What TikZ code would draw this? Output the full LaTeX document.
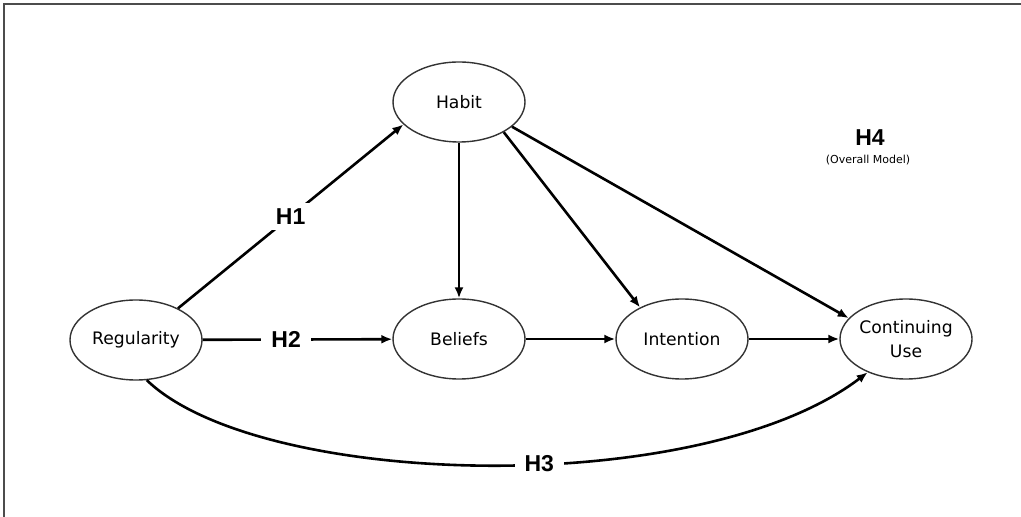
\documentclass[tikz,border=0pt]{standalone}
\usepackage{fontspec}
\setmainfont{DejaVu Sans}
\newfontfamily\hypfont{Liberation Sans}
\usepackage{tikz}
\usetikzlibrary{shapes}
\usetikzlibrary{arrows.meta}
\tikzstyle{Construct}=[ellipse,draw=black!80,line width=.7pt,fill=white,
minimum width=66pt,minimum height=40pt,inner sep=0pt,align=center,
font=\fontsize{8.6}{12}\selectfont]
\tikzstyle{Path}=[draw=black,line width=1.3pt,
-{Latex[length=5.5pt,width=4.5pt]}]
\tikzstyle{Hyp}=[fill=white,inner xsep=5pt,inner ysep=3pt,
font=\hypfont\bfseries\fontsize{11.5}{12}\selectfont]
\tikzstyle{Frame}=[draw=black!70,line width=1.2pt]

\begin{document}
\begin{tikzpicture}[x=.5pt,y=-.5pt]
        \useasboundingbox(0,0)rectangle(1021,517);
        \draw[Frame](1021,4)--(4,4)--(4,517);
        \node[Construct](reg)at(136,340){Regularity};
        \node[Construct](habit)at(459,102){Habit};
        \node[Construct](bel)at(459,339){Beliefs};
        \node[Construct](int)at(682,339){Intention};
        \node[Construct](cu)at(906,339){Continuing\\Use};
        \draw[Path](reg.37)--node[Hyp,pos=.5]{H1}(habit.-158);
        \draw[Path](reg)--node[Hyp,pos=.44]{H2}(bel);
        \draw[Path](habit)--(bel);
        \draw[Path](habit.-34)--(int.143);
        \draw[Path](habit.-25)--(cu.160);
        \draw[Path](bel)--(int);
        \draw[Path](int)--(cu);
        \draw[Path](reg.-75)..controls(260,489)and(700,500)..
            node[Hyp,pos=.56]{H3}(cu.-139);
        \node[font=\hypfont\bfseries\fontsize{11.5}{12}\selectfont](h4)
            at(870,138){H4};
        \node[font=\fontsize{5.5}{6}\selectfont](model)at(868,160)
            {(Overall Model)};
    \end{tikzpicture}
\end{document}
